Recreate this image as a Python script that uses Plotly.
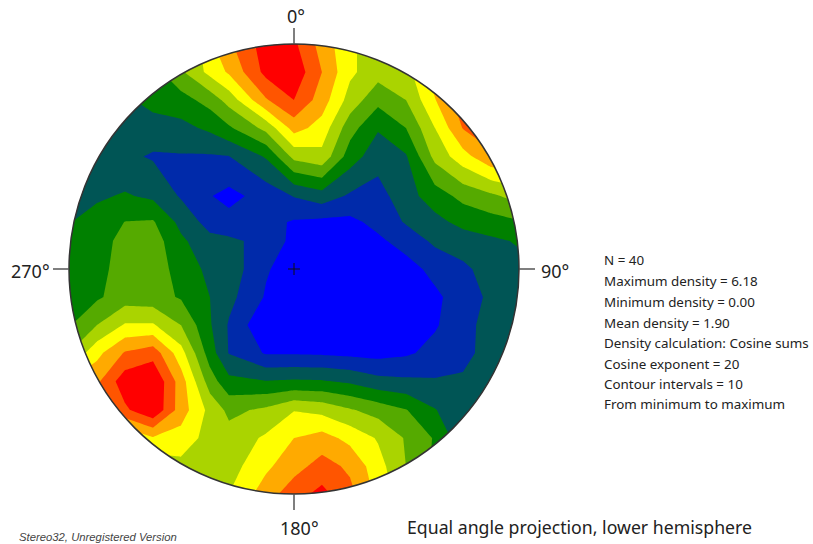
import numpy as np
import plotly.graph_objects as go

W, H = 813, 544
CX, CY, R = 294.0, 269.0, 225.0

# grid node positions in the net, as picture offsets
x_px = [41, 69, 97, 125, 153, 181, 210, 229, 266, 294, 322, 350, 378, 406, 435, 463, 491, 519, 547]
y_px = [16, 44, 72, 100, 128, 156.5, 196, 222, 241, 269, 297, 325, 353, 381.5, 410, 438, 466, 494, 522]

# density, in contour-interval units (1 unit = 0.618)
r00 = [2, 2, 3, 3.2, 3.6, 4.5, 6.8, 7.8, 9.5, 9.2, 7.6, 6.2, 5.4, 5.4, 7, 8.4, 8.4, 8.4, 8.4]
r01 = [2, 2, 3, 3.2, 3.6, 4.5, 6.8, 7.8, 9.5, 9.2, 7.6, 6.2, 5.4, 5.4, 7, 8.4, 8.4, 8.4, 8.4]
r02 = [2, 2, 2.6, 3, 3.6, 4.85, 6.3, 7.15, 9.3, 9.7, 8.0, 6.2, 5.4, 5.6, 7.5, 8.6, 8.6, 8.6, 8.6]
r03 = [2, 2.2, 2.5, 2.8, 3.4, 3.6, 4.4, 5.4, 7.9, 9.0, 7.5, 5.6, 4.3, 5.0, 6.95, 8.6, 8.6, 8.6, 8.6]
r04 = [2, 2, 2, 2.3, 2.5, 2.7, 3.2, 3.85, 5.3, 7.4, 6.6, 4.4, 3.1, 4, 6.0, 8.05, 8.6, 8.6, 8.6]
r05 = [2.3, 2.5, 2.5, 2.2, 1.9, 1.92, 1.9, 1.98, 3.1, 5.3, 5.7, 3.5, 2.4, 2.9, 5.3, 6.6, 7.8, 8, 8]
r06 = [2.4, 2.6, 2.85, 3.1, 2.8, 1.9, 1.05, .7, 1.4, 2.05, 2.55, 1.85, 1.6, 2.6, 3.5, 4.3, 4.8, 5.4, 5.6]
r07 = [2.7, 2.95, 3.4, 4.02, 4.1, 2.7, 1.6, 1.35, 1.3, .9, .75, .75, 1.3, 2.1, 2.7, 3.3, 3.6, 3.9, 4]
r08 = [2.9, 3.05, 3.6, 4.3, 4.5, 3.2, 2.3, 2.2, 1.7, .7, .4, .4, .8, 1.4, 2.2, 2.5, 2.8, 3.1, 3.2]
r09 = [3, 3.3, 3.7, 4.4, 4.4, 3.7, 2.7, 2.6, 1.1, .5, .3, .3, .3, .6, 1.3, 1.8, 2.4, 2.7, 2.8]
r10 = [3.3, 3.6, 3.85, 4.5, 4.4, 3.9, 3, 2.3, .9, .4, .3, .3, .3, .4, .8, 1.5, 2.2, 2.7, 2.8]
r11 = [3.9, 3.9, 5, 6.1, 6.1, 5, 3.1, 1.9, .1, .4, .4, .3, .3, .4, .9, 1.6, 2.45, 2.7, 2.8]
r12 = [5, 5, 6.7, 8.1, 8.6, 6.4, 3.5, 1.95, .9, .9, .85, .75, .65, .85, 1.3, 1.7, 2.4, 2.7, 2.8]
r13 = [7, 7, 7.8, 9.6, 10, 7.5, 4.5, 3.3, 3.05, 3.15, 3.1, 2.85, 2.35, 2.2, 2.1, 2.15, 2.6, 2.7, 2.8]
r14 = [8.8, 8.8, 8.8, 8.8, 9.9, 7.5, 5.7, 4.75, 5.2, 5.95, 5.7, 5.1, 4.6, 4.05, 3.05, 2.3, 2, 2, 2]
r15 = [6, 6, 6, 6, 6.9, 6.6, 5.6, 5.4, 6.15, 7, 7.4, 6.7, 5.9, 4.9, 3.9, 2.3, 2, 2, 2]
r16 = [5.3, 5.3, 5.3, 5.3, 5.3, 5.7, 5.3, 5.55, 6.8, 7.6, 8.4, 7.8, 6.4, 5, 3.8, 2.5, 2, 2, 2]
r17 = [5, 5, 5, 5, 5.2, 5.5, 5.2, 6, 7.5, 8.6, 9.3, 8.3, 6.7, 5.3, 4, 2.5, 2, 2, 2]
r18 = [5, 5, 5, 5, 5.2, 5.5, 5.2, 6, 7.5, 8.6, 9.3, 8.3, 6.7, 5.3, 4, 2.5, 2, 2, 2]
rows = [r00, r01, r02, r03, r04, r05, r06, r07, r08, r09, r10, r11, r12, r13, r14, r15, r16, r17, r18]

max_density = 6.18
n_intervals = 10
band_colors = ["#0000FF", "#002AAA", "#005555", "#008000", "#55AA00",
               "#AAD400", "#FFFF00", "#FFAA00", "#FF5500", "#FF0000"]

stats_lines = ["N = 40", "Maximum density = 6.18", "Minimum density = 0.00", "Mean density = 1.90",
               "Density calculation: Cosine sums", "Cosine exponent = 20",
               "Contour intervals = 10", "From minimum to maximum"]
stats_y = [260, 281, 302, 323, 343, 364, 384, 404]

unit = max_density / n_intervals
z = np.array(rows) * unit
x = (np.array(x_px) - CX) / R
y = (CY - np.array(y_px)) / R

colorscale = []
for i, c in enumerate(band_colors):
    colorscale += [[i / n_intervals, c], [(i + 1) / n_intervals, c]]

fig = go.Figure()
fig.add_trace(go.Contour(
    x=x, y=y, z=z, zmin=0, zmax=max_density, colorscale=colorscale, showscale=False,
    autocontour=False, contours=dict(start=unit, end=unit * 9, size=unit, coloring="fill"),
    line=dict(width=0, smoothing=0), hoverinfo="skip"))

# white mask outside the net
t = np.linspace(0, 2 * np.pi, 721)
ring = "M" + " L".join(f"{np.cos(a):.5f},{np.sin(a):.5f}" for a in t) + " Z"
xr = [-CX / R, (W - CX) / R]
yr = [(CY - H) / R, CY / R]
outer = f"M{xr[0]},{yr[0]} L{xr[1]},{yr[0]} L{xr[1]},{yr[1]} L{xr[0]},{yr[1]} Z "
shapes = [dict(type="path", path=outer + ring, fillcolor="white", fillrule="evenodd",
               line=dict(width=0), layer="above"),
          dict(type="circle", x0=-1, y0=-1, x1=1, y1=1, line=dict(color="#333333", width=1.5), layer="above")]
tick = 16 / R
for x0, y0, x1, y1 in [(0, 1, 0, 1 + tick), (0, -1, 0, -1 - tick), (1, 0, 1 + tick, 0), (-1, 0, -1 - tick, 0)]:
    shapes.append(dict(type="line", x0=x0, y0=y0, x1=x1, y1=y1, line=dict(color="#555555", width=1.5), layer="above"))
cross = 6 / R
shapes.append(dict(type="line", x0=-cross, y0=0, x1=cross, y1=0, line=dict(color="#111111", width=1), layer="above"))
shapes.append(dict(type="line", x0=0, y0=-cross, x1=0, y1=cross, line=dict(color="#111111", width=1), layer="above"))


def label(text, px, py, size, anchor="left", family="Noto Sans", color="#222222"):
    return dict(text=text, x=px / W, y=1 - py / H, xref="paper", yref="paper", showarrow=False,
                xanchor=anchor, yanchor="middle", font=dict(size=size, family=family, color=color))


annotations = [label("0°", 296, 16, 18, "center"), label("180°", 299, 528, 18, "center"),
               label("270°", 52, 271, 18, "right"), label("90°", 539, 271, 18, "left"),
               label("Equal angle projection, lower hemisphere", 405, 527, 17.7),
               label("<i>Stereo32, Unregistered Version</i>", 17, 537, 11.3, family="Liberation Sans", color="#444444")]
annotations += [label(s, 602, py, 13.4) for s, py in zip(stats_lines, stats_y)]

fig.update_layout(width=W, height=H, margin=dict(l=0, r=0, t=0, b=0), paper_bgcolor="white", plot_bgcolor="white",
                  xaxis=dict(visible=False, range=xr, fixedrange=True),
                  yaxis=dict(visible=False, range=yr, fixedrange=True),
                  shapes=shapes, annotations=annotations, showlegend=False)
fig.write_html("out.html", config={"displayModeBar": False},
               post_script="document.body.style.margin='0';document.documentElement.style.overflow='hidden';")
